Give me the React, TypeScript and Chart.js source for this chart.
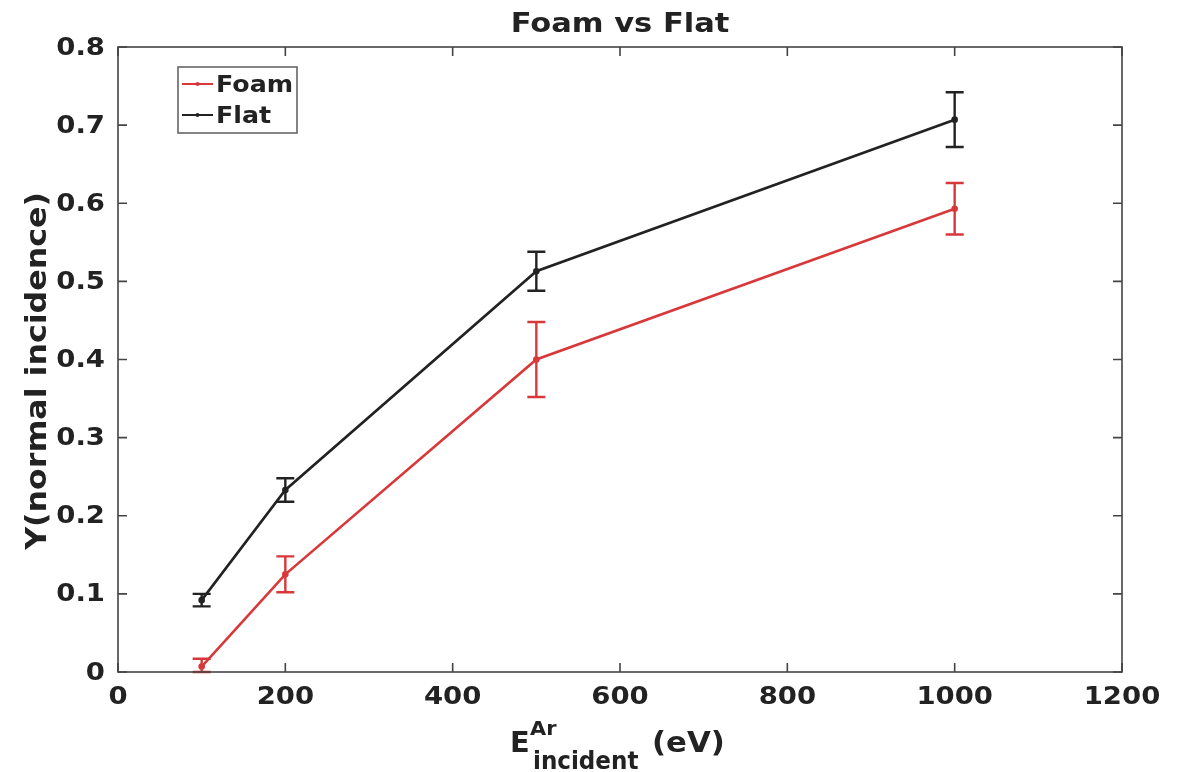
import React, { useEffect, useRef } from "react";
import { Chart, registerables } from "chart.js";

Chart.register(...registerables);

const energies = [100, 200, 500, 1000];
const foamYield = [0.007, 0.125, 0.4, 0.593];
const foamErr = [0.01, 0.023, 0.048, 0.033];
const flatYield = [0.092, 0.233, 0.513, 0.707];
const flatErr = [0.008, 0.015, 0.025, 0.035];
const xTicks = [0, 200, 400, 600, 800, 1000, 1200];
const yTicks = [0, 0.1, 0.2, 0.3, 0.4, 0.5, 0.6, 0.7, 0.8];
const xTickLabels = ["0", "200", "400", "600", "800", "1000", "1200"];
const yTickLabels = ["0", "0.1", "0.2", "0.3", "0.4", "0.5", "0.6", "0.7", "0.8"];

const FOAM_COLOR = "#d9383a";
const FLAT_COLOR = "#222222";
const TEXT_COLOR = "#222222";
const FONT = "'DejaVu Sans', sans-serif";
const STRETCH = 1.1;

// Draw text with a slight horizontal widening (align: left | center | right)
function wideText(ctx: CanvasRenderingContext2D, text: string, x: number, y: number, align: string, sx = STRETCH) {
  const w = ctx.measureText(text).width * sx;
  let left = x;
  if (align === "center") left = x - w / 2;
  else if (align === "right") left = x - w;
  ctx.save();
  ctx.textAlign = "left";
  ctx.translate(left, y);
  ctx.scale(sx, 1);
  ctx.fillText(text, 0, 0);
  ctx.restore();
  return w;
}

const errorBarsPlugin = {
  id: "errorBars",
  afterDatasetsDraw(chart: any) {
    const ctx = chart.ctx;
    const xs = chart.scales.x;
    const ys = chart.scales.y;
    const sets = [
      { v: foamYield, e: foamErr, c: FOAM_COLOR },
      { v: flatYield, e: flatErr, c: FLAT_COLOR },
    ];
    ctx.save();
    ctx.lineWidth = 2.4;
    sets.forEach((s) => {
      ctx.strokeStyle = s.c;
      energies.forEach((x, i) => {
        const px = xs.getPixelForValue(x);
        const top = ys.getPixelForValue(s.v[i] + s.e[i]);
        const bot = ys.getPixelForValue(Math.max(0, s.v[i] - s.e[i]));
        ctx.beginPath();
        ctx.moveTo(px, top);
        ctx.lineTo(px, bot);
        ctx.moveTo(px - 9, top);
        ctx.lineTo(px + 9, top);
        ctx.moveTo(px - 9, bot);
        ctx.lineTo(px + 9, bot);
        ctx.stroke();
      });
    });
    ctx.restore();
  },
};

const framePlugin = {
  id: "frame",
  afterDraw(chart: any) {
    const ctx = chart.ctx as CanvasRenderingContext2D;
    const a = chart.chartArea;
    const xs = chart.scales.x;
    const ys = chart.scales.y;
    ctx.save();
    // axes box
    ctx.strokeStyle = "#444";
    ctx.lineWidth = 1.6;
    ctx.strokeRect(a.left, a.top, a.right - a.left, a.bottom - a.top);
    // inward ticks on all four sides
    ctx.beginPath();
    xTicks.forEach((t) => {
      const px = xs.getPixelForValue(t);
      ctx.moveTo(px, a.bottom);
      ctx.lineTo(px, a.bottom - 9);
      ctx.moveTo(px, a.top);
      ctx.lineTo(px, a.top + 9);
    });
    yTicks.forEach((t) => {
      const py = ys.getPixelForValue(t);
      ctx.moveTo(a.left, py);
      ctx.lineTo(a.left + 9, py);
      ctx.moveTo(a.right, py);
      ctx.lineTo(a.right - 9, py);
    });
    ctx.stroke();

    ctx.fillStyle = TEXT_COLOR;
    ctx.textBaseline = "alphabetic";

    // tick labels
    ctx.font = `bold 25px ${FONT}`;
    ctx.textBaseline = "middle";
    xTicks.forEach((t, i) => {
      wideText(ctx, xTickLabels[i], xs.getPixelForValue(t), a.bottom + 25, "center");
    });
    yTicks.forEach((t, i) => {
      wideText(ctx, yTickLabels[i], a.left - 13, ys.getPixelForValue(t) + 1, "right");
    });
    ctx.textBaseline = "alphabetic";

    // title
    ctx.font = `bold 27px ${FONT}`;
    wideText(ctx, "Foam vs Flat", 620, 32, "center", 1.13);

    // y axis title
    ctx.save();
    ctx.translate(46, 371);
    ctx.rotate(-Math.PI / 2);
    ctx.font = `bold 28px ${FONT}`;
    wideText(ctx, "Y(normal incidence)", 0, 0, "center", 1.13);
    ctx.restore();

    // x axis title with superscript and subscript
    ctx.font = `bold 28px ${FONT}`;
    wideText(ctx, "E", 510, 752, "left", 1.03);
    ctx.font = `bold 19px ${FONT}`;
    wideText(ctx, "Ar", 530, 735, "left", 1.1);
    ctx.font = `bold 24px ${FONT}`;
    wideText(ctx, "incident", 533, 769, "left", 0.96);
    ctx.font = `bold 28px ${FONT}`;
    wideText(ctx, "(eV)", 652, 752, "left", 1.1);

    // legend
    const lx = 178;
    const ly = 67;
    ctx.fillStyle = "#fff";
    ctx.fillRect(lx, ly, 119, 66);
    ctx.strokeStyle = "#666";
    ctx.lineWidth = 1.6;
    ctx.strokeRect(lx, ly, 119, 66);
    const entries = [
      { label: "Foam", c: FOAM_COLOR, y: 84, base: 92 },
      { label: "Flat", c: FLAT_COLOR, y: 115, base: 123 },
    ];
    entries.forEach((e) => {
      ctx.strokeStyle = e.c;
      ctx.lineWidth = 2;
      ctx.beginPath();
      ctx.moveTo(182, e.y);
      ctx.lineTo(213, e.y);
      ctx.stroke();
      ctx.fillStyle = e.c;
      ctx.beginPath();
      ctx.arc(197.5, e.y, 2, 0, Math.PI * 2);
      ctx.fill();
      ctx.fillStyle = TEXT_COLOR;
      ctx.font = `bold 23px ${FONT}`;
      wideText(ctx, e.label, 216, e.base, "left", 1.1);
    });
    ctx.restore();
  },
};

export default function App() {
  const ref = useRef<HTMLCanvasElement | null>(null);

  useEffect(() => {
    document.body.style.margin = "0";
    document.body.style.background = "#fff";
    const canvas = ref.current;
    if (!canvas) return;
    const chart = new Chart(canvas, {
      type: "line",
      data: {
        datasets: [
          {
            label: "Foam",
            data: energies.map((x, i) => ({ x, y: foamYield[i] })),
            borderColor: FOAM_COLOR,
            backgroundColor: FOAM_COLOR,
            borderWidth: 2.6,
            pointRadius: 2,
            tension: 0,
          },
          {
            label: "Flat",
            data: energies.map((x, i) => ({ x, y: flatYield[i] })),
            borderColor: FLAT_COLOR,
            backgroundColor: FLAT_COLOR,
            borderWidth: 2.6,
            pointRadius: 2,
            tension: 0,
          },
        ],
      },
      options: {
        responsive: false,
        animation: false,
        devicePixelRatio: 1,
        layout: { padding: { top: 47, right: 59, left: 0, bottom: 0 } },
        plugins: {
          legend: { display: false },
          title: { display: false },
          tooltip: { enabled: false },
        },
        scales: {
          x: {
            type: "linear",
            min: 0,
            max: 1200,
            afterBuildTicks: (s: any) => {
              s.ticks = xTicks.map((v) => ({ value: v }));
            },
            afterFit: (s: any) => {
              s.height = 100;
            },
            grid: { display: false, drawTicks: false },
            border: { display: false },
            ticks: { display: false },
          },
          y: {
            type: "linear",
            min: 0,
            max: 0.8,
            afterBuildTicks: (s: any) => {
              s.ticks = yTicks.map((v) => ({ value: v }));
            },
            afterFit: (s: any) => {
              s.width = 118;
            },
            grid: { display: false, drawTicks: false },
            border: { display: false },
            ticks: { display: false },
          },
        },
      },
      plugins: [errorBarsPlugin, framePlugin],
    } as any);
    return () => chart.destroy();
  }, []);

  return <canvas ref={ref} width={1181} height={772} style={{ display: "block" }} />;
}
